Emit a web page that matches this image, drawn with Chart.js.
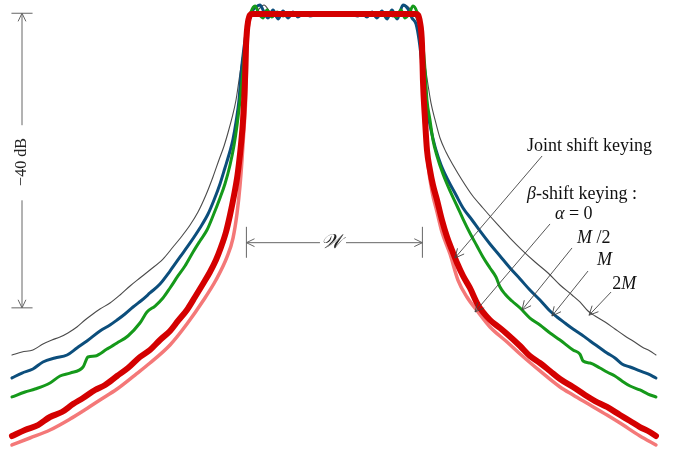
<!DOCTYPE html>
<html>
<head>
<meta charset="utf-8">
<script src="https://cdn.jsdelivr.net/npm/chart.js@4.4.1/dist/chart.umd.min.js"></script>
<style>
  html, body { margin: 0; padding: 0; background: #fff; }
  canvas { display: block; }
</style>
</head>
<body>
<canvas id="spectrum" width="682" height="450"></canvas>
<script>
// x: frequency offset in units of the bandwidth W, y: power in dB
const jointShift = [
  [-1.832,-57.40],[-1.758,-56.58],[-1.684,-55.91],[-1.616,-54.82],[-1.548,-54.14],[-1.485,-53.06],
  [-1.428,-52.24],[-1.360,-51.15],[-1.303,-50.47],[-1.235,-49.25],[-1.173,-48.17],[-1.105,-46.67],
  [-1.048,-45.72],[-0.991,-44.36],[-0.934,-43.14],[-0.889,-41.78],[-0.838,-40.29],[-0.792,-38.53],
  [-0.747,-36.76],[-0.707,-35.13],[-0.673,-33.50],[-0.644,-31.74],[-0.616,-29.70],[-0.593,-27.39],
  [-0.570,-24.68],[-0.553,-22.37],[-0.542,-20.33],[-0.531,-17.89],[-0.519,-14.49],[-0.508,-9.06],
  [-0.502,-4.31],[-0.491,-1.19],[-0.468,-0.10],[0,-0.10],
  [0.464,-0.10],[0.486,-1.19],[0.498,-4.31],[0.503,-9.06],[0.515,-14.49],[0.526,-18.57],
  [0.543,-21.28],[0.560,-23.32],[0.583,-25.36],[0.611,-28.07],[0.640,-30.38],[0.668,-32.15],
  [0.697,-33.91],[0.731,-35.67],[0.770,-37.30],[0.816,-39.61],[0.884,-41.65],[0.941,-42.74],
  [0.981,-43.55],[1.055,-45.18],[1.111,-46.54],[1.168,-47.49],[1.225,-48.57],[1.282,-49.66],
  [1.356,-50.75],[1.424,-51.83],[1.481,-52.65],[1.549,-53.46],[1.623,-54.55],[1.680,-55.36],
  [1.736,-56.18],[1.782,-56.72],[1.827,-57.40]
];

const alphaZero = [
  [-1.832,-58.62],[-1.730,-57.67],[-1.616,-56.58],[-1.502,-55.09],[-1.428,-54.00],[-1.332,-52.51],
  [-1.235,-51.02],[-1.133,-49.12],[-1.048,-47.49],[-0.934,-45.04],[-0.838,-42.19],[-0.747,-39.07],
  [-0.673,-36.22],[-0.610,-33.09],[-0.576,-30.52],[-0.553,-27.12],[-0.536,-23.32],[-0.525,-19.92],
  [-0.514,-15.85],[-0.502,-10.42],[-0.497,-4.99],[-0.485,-1.19],[-0.463,-0.10],[0,-0.10],
  [0.458,-0.10],[0.481,-1.19],[0.492,-4.99],[0.503,-10.42],[0.515,-15.85],[0.532,-20.60],
  [0.555,-24.27],[0.583,-26.99],[0.611,-29.70],[0.657,-32.69],[0.702,-36.22],[0.753,-38.53],
  [0.816,-40.56],[0.884,-42.60],[0.981,-44.64],[1.055,-46.27],[1.168,-48.57],[1.282,-50.75],
  [1.356,-51.83],[1.453,-53.19],[1.549,-54.55],[1.623,-55.64],[1.736,-57.40],[1.827,-58.62]
];

const alphaHalfM = [
  [-1.832,-52.10],[-1.758,-51.43],[-1.701,-51.02],[-1.616,-50.20],[-1.559,-49.25],[-1.502,-48.85],
  [-1.428,-48.03],[-1.400,-46.67],[-1.360,-46.54],[-1.292,-45.59],[-1.235,-44.77],[-1.173,-43.82],
  [-1.105,-42.06],[-1.065,-40.56],[-1.019,-39.75],[-0.974,-38.66],[-0.934,-37.30],[-0.889,-35.67],
  [-0.849,-34.32],[-0.803,-32.42],[-0.764,-30.92],[-0.724,-29.43],[-0.690,-27.53],[-0.650,-25.08],
  [-0.622,-23.18],[-0.593,-20.60],[-0.570,-17.89],[-0.553,-15.17],[-0.536,-11.78],[-0.519,-7.70],
  [-0.508,-4.31],[-0.491,-1.60],[-0.474,0.17],[-0.451,0.99],[-0.428,-0.10],[-0.406,-0.64],
  [-0.383,0.44],[-0.355,-0.51],[-0.326,0.17],[-0.292,-0.37],[-0.252,0.04],[-0.195,-0.24],[-0.082,-0.10],
  [0.077,-0.10],[0.191,-0.24],[0.248,0.04],[0.288,-0.37],[0.322,0.17],[0.350,-0.51],[0.378,0.44],
  [0.401,-0.64],[0.424,-0.10],[0.447,0.99],[0.469,0.17],[0.486,-1.60],[0.503,-4.31],[0.515,-7.70],
  [0.526,-11.78],[0.543,-14.49],[0.560,-17.21],[0.583,-19.38],[0.617,-21.83],[0.657,-24.13],
  [0.697,-26.17],[0.731,-27.94],[0.770,-29.84],[0.810,-31.60],[0.844,-33.09],[0.884,-34.59],
  [0.918,-35.81],[0.941,-37.17],[0.969,-38.12],[1.009,-39.07],[1.055,-40.02],[1.111,-41.38],
  [1.168,-42.33],[1.225,-43.41],[1.282,-44.36],[1.356,-45.72],[1.395,-46.27],[1.413,-47.22],
  [1.453,-47.49],[1.509,-48.17],[1.549,-48.71],[1.594,-49.25],[1.634,-49.93],[1.680,-50.61],
  [1.736,-51.15],[1.782,-51.70],[1.827,-52.10]
];

const alphaM = [
  [-1.832,-49.52],[-1.775,-48.85],[-1.713,-48.30],[-1.656,-47.35],[-1.588,-46.81],[-1.519,-46.40],
  [-1.463,-45.45],[-1.406,-44.50],[-1.332,-43.14],[-1.275,-42.33],[-1.235,-41.65],[-1.190,-40.83],
  [-1.144,-39.88],[-1.093,-38.93],[-1.048,-37.98],[-0.991,-36.76],[-0.934,-35.00],[-0.877,-33.09],
  [-0.820,-31.19],[-0.764,-29.16],[-0.718,-27.26],[-0.684,-25.36],[-0.650,-23.18],[-0.622,-21.01],
  [-0.593,-18.70],[-0.576,-17.07],[-0.559,-14.76],[-0.542,-11.78],[-0.531,-8.38],[-0.514,-4.72],
  [-0.497,-2.00],[-0.480,-0.64],[-0.463,0.44],[-0.445,0.85],[-0.423,1.12],[-0.400,0.17],
  [-0.377,-0.64],[-0.349,0.44],[-0.320,-0.78],[-0.292,0.31],[-0.264,-0.64],[-0.235,0.17],
  [-0.207,-0.51],[-0.173,0.04],[-0.139,-0.37],[-0.093,-0.10],
  [0.089,-0.10],[0.134,-0.37],[0.157,0.04],[0.185,-0.51],[0.214,0.17],[0.242,-0.64],[0.270,0.31],
  [0.299,-0.78],[0.327,0.44],[0.356,-0.78],[0.390,1.12],[0.418,0.58],[0.441,-0.64],[0.464,-1.46],
  [0.481,-3.63],[0.498,-7.03],[0.515,-11.10],[0.532,-13.81],[0.549,-15.85],[0.577,-18.57],
  [0.606,-20.60],[0.645,-22.64],[0.691,-24.68],[0.731,-26.44],[0.782,-28.07],[0.827,-29.56],
  [0.884,-31.33],[0.941,-32.96],[0.998,-34.59],[1.055,-36.08],[1.111,-37.58],[1.168,-38.94],
  [1.225,-40.43],[1.265,-41.24],[1.310,-42.06],[1.356,-42.87],[1.407,-43.69],[1.453,-44.50],
  [1.509,-45.45],[1.549,-46.13],[1.594,-46.81],[1.634,-47.62],[1.680,-48.03],[1.736,-48.57],
  [1.782,-48.98],[1.827,-49.52]
];

const alpha2M = [
  [-1.832,-46.40],[-1.775,-45.99],[-1.713,-45.72],[-1.656,-44.91],[-1.605,-44.36],[-1.559,-43.96],
  [-1.514,-43.41],[-1.463,-42.60],[-1.417,-41.65],[-1.372,-40.83],[-1.332,-40.16],[-1.275,-39.34],
  [-1.218,-38.25],[-1.161,-37.03],[-1.105,-35.95],[-1.048,-34.86],[-0.974,-33.37],[-0.917,-31.74],
  [-0.866,-30.24],[-0.820,-28.75],[-0.775,-26.99],[-0.730,-24.68],[-0.690,-22.23],[-0.656,-19.92],
  [-0.627,-18.02],[-0.605,-16.26],[-0.582,-14.22],[-0.559,-11.78],[-0.542,-9.06],[-0.525,-6.35],
  [-0.508,-3.63],[-0.491,-1.60],[-0.468,-0.37],[-0.434,0.44],[-0.400,1.12],[-0.366,0.17],
  [-0.332,-0.51],[-0.292,0.17],[-0.252,-0.37],[-0.213,0.04],[-0.167,-0.24],[-0.110,-0.10],
  [0.111,-0.10],[0.168,-0.24],[0.214,0.04],[0.253,-0.37],[0.293,0.17],[0.333,-0.51],[0.367,0.17],
  [0.401,1.12],[0.435,0.44],[0.464,-0.64],[0.481,-2.00],[0.498,-4.31],[0.515,-7.03],[0.532,-9.74],
  [0.549,-12.19],[0.572,-14.49],[0.600,-16.94],[0.634,-18.84],[0.674,-20.60],[0.725,-22.64],
  [0.782,-24.68],[0.844,-26.44],[0.924,-28.61],[0.998,-30.52],[1.066,-32.15],[1.140,-33.77],
  [1.214,-35.27],[1.282,-36.90],[1.350,-38.25],[1.395,-39.20],[1.441,-40.43],[1.481,-41.11],
  [1.538,-41.92],[1.594,-42.87],[1.651,-43.82],[1.697,-44.50],[1.748,-45.32],[1.793,-45.86],
  [1.827,-46.40]
];

// annotation labels: runs of [text, italic]
const labelRuns = [
  { at: [1.094, -18.70], runs: [["Joint shift keying", false]] },
  { at: [1.094, -25.22], runs: [["\u03B2", true], ["-shift keying :", false]] },
  { at: [1.253, -27.94], runs: [["\u03B1", true], [" = 0", false]] },
  { at: [1.378, -31.19], runs: [["M", true], [" /2", false]] },
  { at: [1.492, -34.18], runs: [["M", true]] },
  { at: [1.578, -37.44], runs: [["2", false], ["M", true]] }
];
const pointers = [
  [[1.180, -19.38], [0.685, -33.23]],
  [[1.225, -28.61], [0.799, -40.56]],
  [[1.350, -31.87], [1.066, -40.29]],
  [[1.441, -35.00], [1.236, -41.11]],
  [[1.572, -37.85], [1.447, -41.00]]
];

function toPoints(pairs) {
  return pairs.map(p => ({ x: p[0], y: p[1] }));
}

function arrowHead(ctx, x1, y1, x2, y2, size) {
  const a = Math.atan2(y2 - y1, x2 - x1);
  const spread = 0.45;
  ctx.beginPath();
  ctx.moveTo(x2 - size * Math.cos(a - spread), y2 - size * Math.sin(a - spread));
  ctx.lineTo(x2, y2);
  ctx.lineTo(x2 - size * Math.cos(a + spread), y2 - size * Math.sin(a + spread));
  ctx.stroke();
}

function line(ctx, x1, y1, x2, y2) {
  ctx.beginPath();
  ctx.moveTo(x1, y1);
  ctx.lineTo(x2, y2);
  ctx.stroke();
}

const SERIF = '"Liberation Serif", "Times New Roman", serif';

const annotate = {
  id: "annotate",
  afterDatasetsDraw: (chart) => {
    const ctx = chart.ctx;
    const px = (v) => chart.scales.x.getPixelForValue(v);
    const py = (v) => chart.scales.y.getPixelForValue(v);
    ctx.save();

    // -40 dB dimension
    ctx.strokeStyle = "#666";
    ctx.lineWidth = 1;
    const dx = px(-1.775);
    const top = py(0), bot = py(-40);
    line(ctx, px(-1.835), top, px(-1.715), top);
    line(ctx, px(-1.835), bot, px(-1.715), bot);
    line(ctx, dx, top, dx, py(-15.2));
    line(ctx, dx, py(-25.4), dx, bot);
    arrowHead(ctx, dx, top + 20, dx, top, 9);
    arrowHead(ctx, dx, bot - 20, dx, bot, 9);
    ctx.save();
    ctx.translate(dx, py(-20.2));
    ctx.rotate(-Math.PI / 2);
    ctx.fillStyle = "#222";
    ctx.font = `16px ${SERIF}`;
    ctx.textAlign = "center";
    ctx.textBaseline = "middle";
    ctx.fillText("\u221240 dB", 0, 0);
    ctx.restore();

    // bandwidth W
    const wy = py(-31.15);
    const wl = px(-0.5), wr = px(0.5);
    line(ctx, wl, py(-29.0), wl, py(-33.2));
    line(ctx, wr, py(-29.0), wr, py(-33.2));
    line(ctx, wl, wy, px(-0.082), wy);
    line(ctx, px(0.066), wy, wr, wy);
    arrowHead(ctx, wl + 20, wy, wl, wy, 9);
    arrowHead(ctx, wr - 20, wy, wr, wy, 9);
    ctx.fillStyle = "#222";
    ctx.font = `italic 20px ${SERIF}`;
    ctx.textAlign = "center";
    ctx.textBaseline = "middle";
    ctx.fillText("\u{1D4B2}", px(-0.015), wy);

    // pointers
    ctx.strokeStyle = "#444";
    ctx.lineWidth = 0.9;
    pointers.forEach(([a, b]) => {
      line(ctx, px(a[0]), py(a[1]), px(b[0]), py(b[1]));
      arrowHead(ctx, px(a[0]), py(a[1]), px(b[0]), py(b[1]), 10);
    });

    // labels
    ctx.textAlign = "left";
    ctx.textBaseline = "alphabetic";
    ctx.fillStyle = "#111";
    labelRuns.forEach((lab) => {
      let x = px(lab.at[0]);
      const y = py(lab.at[1]);
      lab.runs.forEach(([t, it]) => {
        ctx.font = `${it ? "italic " : ""}18px ${SERIF}`;
        ctx.fillText(t, x, y);
        x += ctx.measureText(t).width;
      });
    });
    ctx.restore();
  },
};

function curve(label, pairs, color, width, order) {
  return {
    label: label,
    data: toPoints(pairs),
    borderColor: color,
    borderWidth: width,
    pointRadius: 0,
    fill: false,
    cubicInterpolationMode: "monotone",
    borderJoinStyle: "round",
    borderCapStyle: "round",
    order: order,
  };
}

new Chart(document.getElementById("spectrum"), {
  type: "line",
  data: {
    datasets: [
      curve("Joint shift keying", jointShift, "#d40000", 6, 0),
      curve("M/2", alphaHalfM, "#15991a", 3, 1),
      curve("M", alphaM, "#0c4e7c", 3, 2),
      curve("2M", alpha2M, "#4a4a4a", 1.1, 3),
      curve("alpha = 0", alphaZero, "#f47878", 3.5, 4),
    ],
  },
  options: {
    responsive: false,
    animation: false,
    layout: { padding: 0 },
    scales: {
      x: { type: "linear", min: -1.9, max: 1.975, display: false },
      y: { type: "linear", min: -59.3, max: 1.8, display: false },
    },
    plugins: {
      legend: { display: false },
      tooltip: { enabled: false },
    },
  },
  plugins: [annotate],
});
</script>
</body>
</html>
